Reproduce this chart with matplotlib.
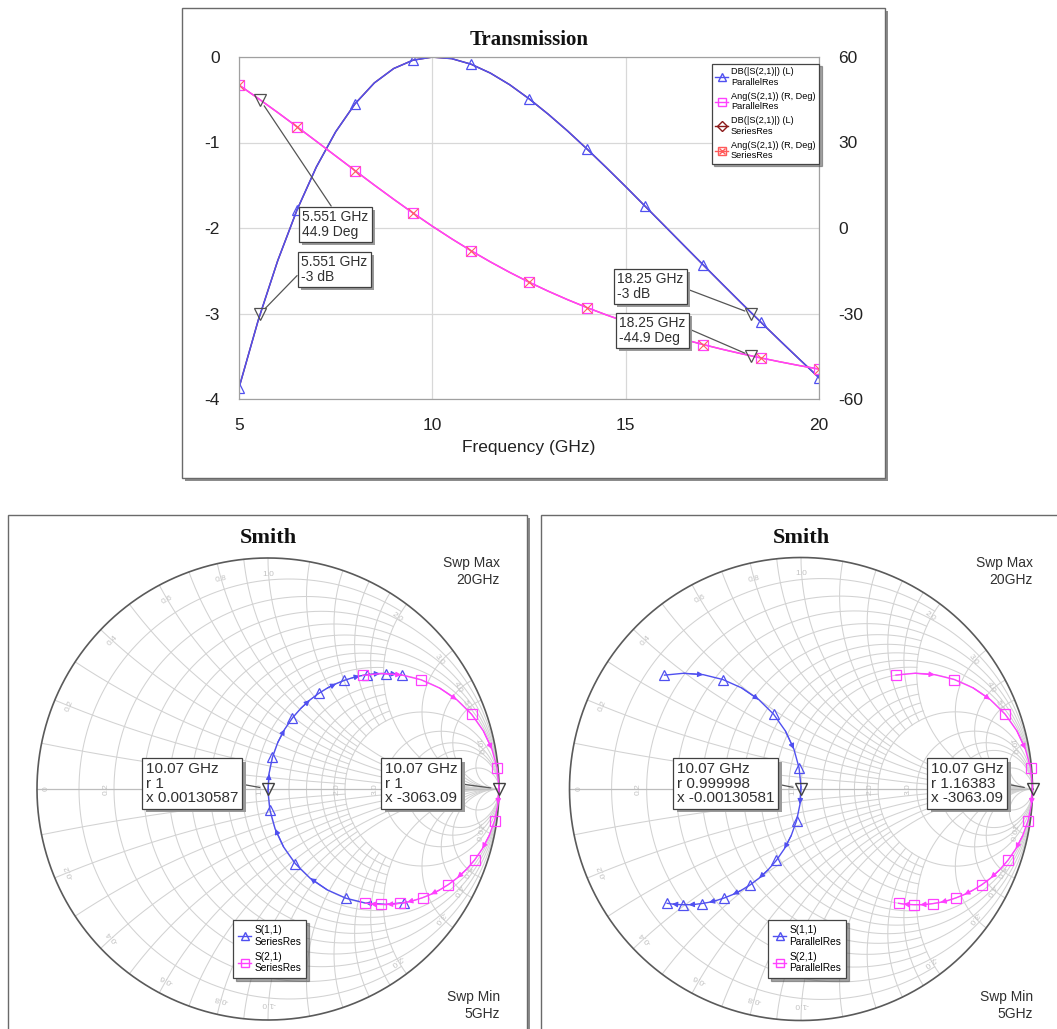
import numpy as np
import matplotlib
matplotlib.use('Agg')
import matplotlib.pyplot as plt
import matplotlib.patheffects as pe
from matplotlib.patches import Rectangle
from matplotlib.lines import Line2D

W, H = 1057, 1029
plt.rcParams['font.family'] = ['Liberation Sans', 'DejaVu Sans']
plt.rcParams['axes.unicode_minus'] = False

# ---------------- data ----------------
freq = [5.0, 5.5, 6.0, 6.5, 7.0, 7.5, 8.0, 8.5, 9.0, 9.5, 10.0, 10.5, 11.0, 11.5, 12.0, 12.5,
        13.0, 13.5, 14.0, 14.5, 15.0, 15.5, 16.0, 16.5, 17.0, 17.5, 18.0, 18.5, 19.0, 19.5, 20.0]
db_s21 = [-3.869, -3.075, -2.384, -1.789, -1.287, -0.875, -0.548, -0.303, -0.135, -0.037, -0.001,
          -0.019, -0.084, -0.188, -0.324, -0.488, -0.670, -0.866, -1.076, -1.293, -1.516, -1.744,
          -1.972, -2.201, -2.429, -2.656, -2.881, -3.103, -3.322, -3.538, -3.751]
ang_s21 = [50.17, 45.42, 40.54, 35.52, 30.43, 25.28, 20.15, 15.06, 10.09, 5.26, 0.63, -3.78, -7.96,
           -11.88, -15.56, -19.00, -22.19, -25.16, -27.93, -30.49, -32.88, -35.10, -37.16, -39.09,
           -40.88, -42.57, -44.13, -45.60, -46.98, -48.29, -49.51]

# marker readouts on the transmission plot
mk_freq = [5.551, 18.25]
mk_db = [-3.0, -3.0]
mk_ang = [44.9, -44.9]

# reflection coefficients (real / imag) on the Smith charts, same frequencies
s11_ser_re = [0.5897, 0.5074, 0.4224, 0.3376, 0.2565, 0.1824, 0.1186, 0.0675, 0.0307, 0.0084, 0.0001,
              0.0044, 0.0192, 0.0424, 0.0720, 0.1059, 0.1427, 0.1808, 0.2194, 0.2575, 0.2947, 0.3306,
              0.3649, 0.3975, 0.4284, 0.4575, 0.4849, 0.5106, 0.5346, 0.5572, 0.5782]
s11_ser_im = [-0.4919, -0.4999, -0.4939, -0.4729, -0.4367, -0.3862, -0.3234, -0.2509, -0.1724, -0.0913,
              -0.0111, 0.0658, 0.1371, 0.2015, 0.2584, 0.3077, 0.3497, 0.3849, 0.4138, 0.4373, 0.4559,
              0.4704, 0.4814, 0.4894, 0.4948, 0.4982, 0.4998, 0.4999, 0.4988, 0.4967, 0.4938]
s21_re = [0.4103, 0.4926, 0.5776, 0.6624, 0.7435, 0.8176, 0.8814, 0.9325, 0.9693, 0.9916, 0.9999,
          0.9956, 0.9808, 0.9576, 0.9280, 0.8941, 0.8573, 0.8192, 0.7806, 0.7425, 0.7053, 0.6694,
          0.6351, 0.6025, 0.5716, 0.5425, 0.5151, 0.4894, 0.4654, 0.4428, 0.4218]
s21_im = [0.4919, 0.4999, 0.4939, 0.4729, 0.4367, 0.3862, 0.3234, 0.2509, 0.1724, 0.0913, 0.0111,
          -0.0658, -0.1371, -0.2015, -0.2584, -0.3077, -0.3497, -0.3849, -0.4138, -0.4373, -0.4559,
          -0.4704, -0.4814, -0.4894, -0.4948, -0.4982, -0.4998, -0.4999, -0.4988, -0.4967, -0.4938]
s11_par_re = [-0.5897, -0.5074, -0.4224, -0.3376, -0.2565, -0.1824, -0.1186, -0.0675, -0.0307, -0.0084,
              -0.0001, -0.0044, -0.0192, -0.0424, -0.0720, -0.1059, -0.1427, -0.1808, -0.2194, -0.2575,
              -0.2947, -0.3306, -0.3649, -0.3975, -0.4284, -0.4575, -0.4849, -0.5106, -0.5346, -0.5572,
              -0.5782]
s11_par_im = [0.4919, 0.4999, 0.4939, 0.4729, 0.4367, 0.3862, 0.3234, 0.2509, 0.1724, 0.0913, 0.0111,
              -0.0658, -0.1371, -0.2015, -0.2584, -0.3077, -0.3497, -0.3849, -0.4138, -0.4373, -0.4559,
              -0.4704, -0.4814, -0.4894, -0.4948, -0.4982, -0.4998, -0.4999, -0.4988, -0.4967, -0.4938]

# 10.07 GHz marker readouts on the Smith charts
mk_s11 = (0.0, 0.0)
mk_s21 = (1.0, 0.0)

r_major = [0.2, 0.4, 0.6, 0.8, 1.0, 2.0, 3.0, 4.0, 5.0, 10.0]
r_minor = [0.1, 0.3, 0.5, 0.7, 0.9, 1.2, 1.4, 1.6, 1.8]
r_labels = [0.0, 0.2, 1.0, 2.0, 3.0]          # the others sit under the marker boxes
x_labels = [0.2, 0.4, 0.6, 0.8, 1.0, 2.0, 3.0, 4.0, 5.0, 10.0]

BLUE = '#5050f0'
PINK = '#ff40ff'
GRID = '#d2d2d2'
TXT = '#303030'


def fx(x):
    return x / W


def fy(y):
    return 1 - y / H


def frame(fig, x0, y0, x1, y1):
    fig.add_artist(Rectangle((fx(x0 + 3), fy(y1 + 3)), (x1 - x0) / W, (y1 - y0) / H,
                             transform=fig.transFigure, fc='#8c8c8c', ec='none', zorder=-2))
    fig.add_artist(Rectangle((fx(x0), fy(y1)), (x1 - x0) / W, (y1 - y0) / H,
                             transform=fig.transFigure, fc='white', ec='#6a6a6a', lw=1.0, zorder=-1))


def tag(axis, text, xy, box, relpos, fs, shrink=5):
    x, y = box
    ann = axis.annotate(text, xy=xy, xycoords='data', xytext=(x, H - y), textcoords='figure pixels',
                        ha='left', va='top', fontsize=fs, color=TXT, linespacing=1.05, zorder=6,
                        bbox=dict(boxstyle='square,pad=0.25', fc='white', ec='#404040', lw=0.9),
                        arrowprops=dict(arrowstyle='-', color='#555555', lw=0.9, shrinkA=0,
                                        shrinkB=shrink, relpos=relpos))
    ann.get_bbox_patch().set_path_effects([
        pe.SimplePatchShadow(offset=(2.5, -2.5), shadow_rgbFace='#9a9a9a', alpha=1.0), pe.Normal()])


fig = plt.figure(figsize=(W / 100, H / 100), dpi=100)

# ---------------- transmission ----------------
frame(fig, 182, 8, 885, 478)
ax = fig.add_axes([fx(239), fy(399), (819 - 239) / W, (399 - 57) / H])
ax2 = ax.twinx()

ax.plot(freq, db_s21, color='#8b1a1a', lw=1.0)
ax.plot(freq, db_s21, color=BLUE, lw=1.1, marker='^', markevery=3, ms=7.5, mfc='none', mec=BLUE, mew=0.9)
ax.plot(mk_freq, mk_db, ls='none', marker='v', ms=8, mfc='none', mec='#505050', mew=0.9)
ax2.plot(freq, ang_s21, color='#ff5a5a', lw=1.0)
ax2.plot(freq, ang_s21, color=PINK, lw=1.1, marker='s', markevery=3, ms=7.5, mfc='none', mec=PINK, mew=0.9)
ax2.plot(freq, ang_s21, ls='none', marker='x', markevery=3, ms=6.5, mec='#ff6060', mew=0.8)
ax2.plot(mk_freq, mk_ang, ls='none', marker='v', ms=8, mfc='none', mec='#505050', mew=0.9)

ax.set_xlim(5, 20)
ax.set_ylim(-4, 0)
ax2.set_ylim(-60, 60)
ax.set_xticks([5, 10, 15, 20])
ax.set_yticks([0, -1, -2, -3, -4])
ax2.set_yticks([60, 30, 0, -30, -60])
ax.grid(True, color='#d8d8d8', lw=0.9)
for a in (ax, ax2):
    a.tick_params(length=0, pad=14, labelsize=12.5, labelcolor='#222222')
    for s in a.spines.values():
        s.set_color('#a0a0a0')
        s.set_linewidth(0.8)
ax.set_xlabel('Frequency (GHz)', fontsize=12.5, color='#222222', labelpad=5)
fig.text(fx(529), fy(40), 'Transmission', ha='center', va='center', fontsize=15,
         fontweight='bold', family='Liberation Serif', color='#111111')

tag(ax2, '5.551 GHz\n44.9 Deg', (mk_freq[0], mk_ang[0]), (302, 210), (0.48, 1.0), 10)
tag(ax, '5.551 GHz\n-3 dB', (mk_freq[0], mk_db[0]), (301, 255), (0.0, 0.42), 10)
tag(ax, '18.25 GHz\n-3 dB', (mk_freq[1], mk_db[1]), (617, 272), (1.0, 0.45), 10)
tag(ax2, '18.25 GHz\n-44.9 Deg', (mk_freq[1], mk_ang[1]), (619, 316), (1.0, 0.6), 10)

h_db_p = Line2D([], [], color=BLUE, lw=1, marker='^', mfc='none', mec=BLUE, ms=6)
h_an_p = Line2D([], [], color=PINK, lw=1, marker='s', mfc='none', mec=PINK, ms=6)
h_db_s = Line2D([], [], color='#8b1a1a', lw=1, marker='D', mfc='none', mec='#8b1a1a', ms=5)
h_an_s = (Line2D([], [], color='#ff5a5a', lw=1, marker='s', mfc='none', mec='#ff5a5a', ms=6),
          Line2D([], [], ls='none', marker='x', mec='#ff5a5a', ms=5))
ax2.legend([h_db_p, h_an_p, h_db_s, h_an_s],
           ['DB(|S(2,1)|) (L)\nParallelRes', 'Ang(S(2,1)) (R, Deg)\nParallelRes',
            'DB(|S(2,1)|) (L)\nSeriesRes', 'Ang(S(2,1)) (R, Deg)\nSeriesRes'],
           loc='upper left', bbox_to_anchor=(fx(707), fy(59)), bbox_transform=fig.transFigure,
           fontsize=6.6, frameon=True, fancybox=False, shadow=True, edgecolor='#444444',
           borderpad=0.4, labelspacing=0.55, handlelength=1.4, handletextpad=0.3,
           framealpha=1).get_frame().set_linewidth(0.9)


# ---------------- Smith charts ----------------
def smith_grid(a):
    big = np.pi / 2 - 1e-5
    for vals, lim in ((r_major, big), (r_minor, np.arctan(2.0))):
        for v in vals:
            xs = np.tan(np.linspace(-lim, lim, 900))
            z = v + 1j * xs
            g = (z - 1) / (z + 1)
            a.plot(g.real, g.imag, color=GRID, lw=0.75, zorder=1)
            rs = np.tan(np.linspace(0, lim, 900))
            for sgn in (1, -1):
                z = rs + 1j * sgn * v
                g = (z - 1) / (z + 1)
                a.plot(g.real, g.imag, color=GRID, lw=0.75, zorder=1)
    a.plot([-1, 1], [0, 0], color='#bdbdbd', lw=0.9, zorder=1)
    t = np.linspace(0, 2 * np.pi, 600)
    a.plot(np.cos(t), np.sin(t), color='#5a5a5a', lw=1.2, zorder=2)
    for v in r_labels:
        gr = (v - 1) / (v + 1)
        txt = '0' if v == 0 else f'{v:.1f}'
        a.text(gr + (0.04 if v == 0 else -0.035), 0, txt, rotation=90, ha='center', va='center',
               fontsize=6, color='#c2c2c2')
    for v in x_labels:
        for sgn in (1, -1):
            g = (1j * sgn * v - 1) / (1j * sgn * v + 1)
            th = np.angle(g)
            a.text(0.93 * np.cos(th), 0.93 * np.sin(th), f'{sgn * v:.1f}',
                   rotation=np.degrees(th) - 90, rotation_mode='anchor', ha='center', va='center',
                   fontsize=6, color='#c2c2c2')


def trace(a, re, im, color, marker):
    a.plot(re, im, color=color, lw=1.0, marker=marker, markevery=3, ms=7.5, mfc='none', mec=color,
           mew=0.9, zorder=4)
    for i in range(1, len(re) - 1, 3):
        a.annotate('', xy=(re[i + 1], im[i + 1]), xytext=(re[i], im[i]),
                   arrowprops=dict(arrowstyle='-|>', color=color, lw=0.8, mutation_scale=8,
                                   shrinkA=0, shrinkB=0), zorder=4)


def smith_panel(x0, x1, cx, cy, R, s11_re, s11_im, name, s11_txt, s21_txt, box1, box2, leg):
    frame(fig, x0, 515, x1, 1040)
    a = fig.add_axes([fx(x0), fy(1029), (x1 - x0) / W, (1029 - 515) / H])
    a.set_xlim((x0 - cx) / R, (x1 - cx) / R)
    a.set_ylim((cy - 1029) / R, (cy - 515) / R)
    a.axis('off')
    smith_grid(a)
    trace(a, s11_re, s11_im, BLUE, '^')
    trace(a, s21_re, s21_im, PINK, 's')
    a.plot([mk_s11[0], mk_s21[0]], [mk_s11[1], mk_s21[1]], ls='none', marker='v', ms=9,
           mfc='none', mec='#404040', mew=1.0, zorder=5, clip_on=False)
    tag(a, s11_txt, mk_s11, box1, (1.0, 0.5), 11, shrink=6)
    tag(a, s21_txt, mk_s21, box2, (1.0, 0.5), 11, shrink=6)
    fig.text(fx(cx), fy(538), 'Smith', ha='center', va='center', fontsize=16, fontweight='bold',
             family='Liberation Serif', color='#111111')
    fig.text(fx(cx + 232), fy(556), 'Swp Max\n20GHz', ha='right', va='top', fontsize=10,
             color=TXT, linespacing=1.25)
    fig.text(fx(cx + 232), fy(990), 'Swp Min\n5GHz', ha='right', va='top', fontsize=10,
             color=TXT, linespacing=1.25)
    h1 = Line2D([], [], color=BLUE, lw=1, marker='^', mfc='none', mec=BLUE, ms=6)
    h2 = Line2D([], [], color=PINK, lw=1, marker='s', mfc='none', mec=PINK, ms=6)
    lg = a.legend([h1, h2], ['S(1,1)\n' + name, 'S(2,1)\n' + name], loc='upper left',
                  bbox_to_anchor=(fx(leg[0]), fy(leg[1])), bbox_transform=fig.transFigure,
                  fontsize=7.3, frameon=True, fancybox=False, shadow=True, edgecolor='#444444',
                  borderpad=0.5, labelspacing=0.5, handlelength=1.3, handletextpad=0.3,
                  framealpha=1)
    lg.get_frame().set_linewidth(0.9)


smith_panel(8, 527, 268, 789, 231, s11_ser_re, s11_ser_im, 'SeriesRes',
            '10.07 GHz\nr 1\nx 0.00130587', '10.07 GHz\nr 1\nx -3063.09',
            (146, 762), (385, 762), (228, 915))
smith_panel(541, 1060, 801, 789, 231.5, s11_par_re, s11_par_im, 'ParallelRes',
            '10.07 GHz\nr 0.999998\nx -0.00130581', '10.07 GHz\nr 1.16383\nx -3063.09',
            (677, 762), (931, 762), (763, 915))

fig.savefig('out.png', dpi=100)
